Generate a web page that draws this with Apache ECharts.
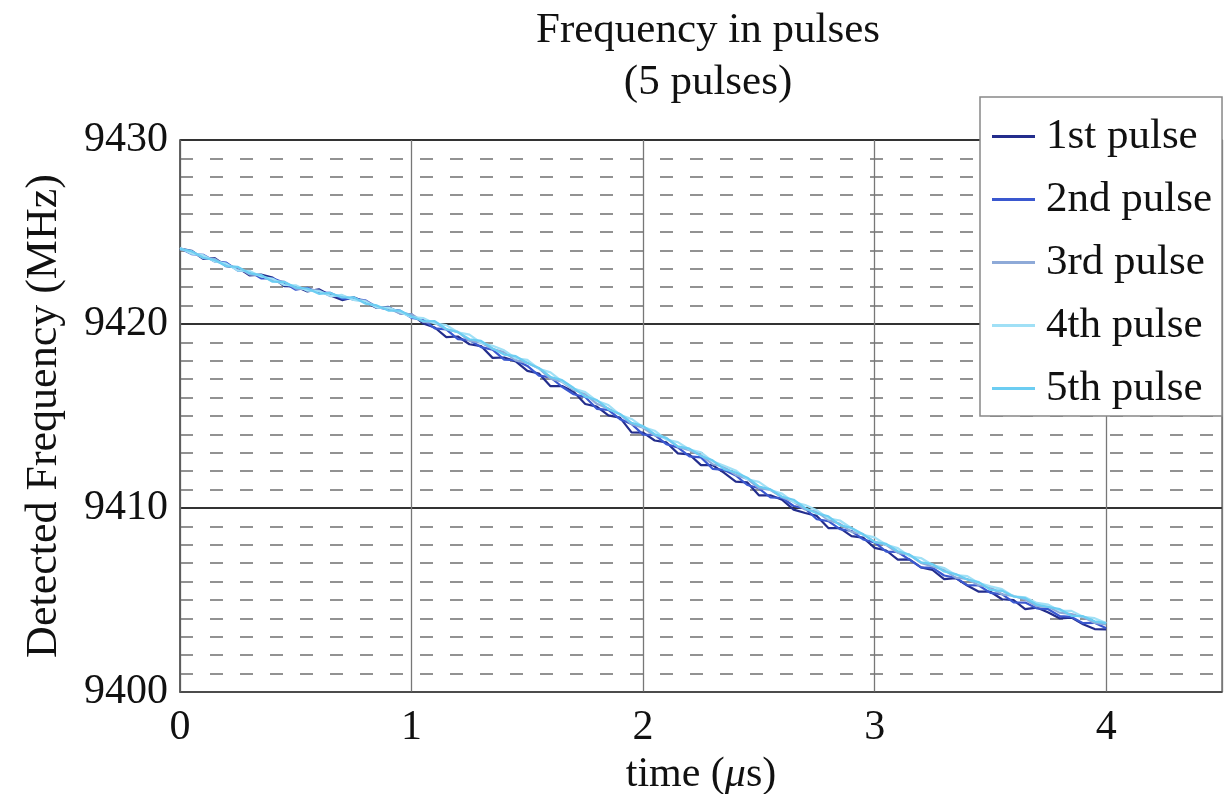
<!DOCTYPE html>
<html>
<head>
<meta charset="utf-8">
<title>Frequency in pulses</title>
<script src="https://cdn.jsdelivr.net/npm/echarts@6/dist/echarts.min.js"></script>
<style>
    html, body { margin: 0; padding: 0; background: #fff; }
    #main { width: 1224px; height: 794px; }
</style>
</head>
<body>
<div id="main"></div>
<script>
    // time axis (us)
    var timeUs = [0.00, 0.05, 0.10, 0.15, 0.20, 0.25, 0.30, 0.35, 0.40, 0.45,
        0.50, 0.55, 0.60, 0.65, 0.70, 0.75, 0.80, 0.85, 0.90, 0.95,
        1.00, 1.05, 1.10, 1.15, 1.20, 1.25, 1.30, 1.35, 1.40, 1.45,
        1.50, 1.55, 1.60, 1.65, 1.70, 1.75, 1.80, 1.85, 1.90, 1.95,
        2.00, 2.05, 2.10, 2.15, 2.20, 2.25, 2.30, 2.35, 2.40, 2.45,
        2.50, 2.55, 2.60, 2.65, 2.70, 2.75, 2.80, 2.85, 2.90, 2.95,
        3.00, 3.05, 3.10, 3.15, 3.20, 3.25, 3.30, 3.35, 3.40, 3.45,
        3.50, 3.55, 3.60, 3.65, 3.70, 3.75, 3.80, 3.85, 3.90, 3.95, 4.00];

    // detected frequency (MHz) per pulse
    var pulse1 = [9424.10, 9423.98, 9423.54, 9423.58, 9423.14, 9423.06, 9422.64, 9422.68, 9422.52, 9422.06,
        9422.04, 9421.77, 9421.89, 9421.55, 9421.30, 9421.45, 9421.19, 9420.87, 9420.93, 9420.58,
        9420.53, 9420.03, 9419.81, 9419.29, 9419.32, 9418.90, 9418.80, 9418.16, 9418.18, 9417.97,
        9417.45, 9417.31, 9416.62, 9416.63, 9416.32, 9415.65, 9415.51, 9415.03, 9414.91, 9414.11,
        9414.10, 9413.67, 9413.57, 9412.97, 9412.91, 9412.33, 9412.33, 9411.91, 9411.43, 9411.39,
        9410.69, 9410.69, 9410.45, 9409.91, 9409.73, 9409.57, 9408.91, 9408.91, 9408.47, 9408.39,
        9407.83, 9407.69, 9407.19, 9407.21, 9406.77, 9406.63, 9406.13, 9406.19, 9405.79, 9405.45,
        9405.45, 9405.04, 9404.99, 9404.50, 9404.59, 9404.32, 9404.00, 9404.04, 9403.68, 9403.42, 9403.40];
    var pulse2 = [9424.12, 9423.80, 9423.76, 9423.40, 9423.34, 9422.90, 9422.86, 9422.48, 9422.48, 9422.24,
        9421.86, 9421.97, 9421.70, 9421.69, 9421.38, 9421.37, 9421.29, 9420.91, 9420.79, 9420.73,
        9420.33, 9420.24, 9419.76, 9419.71, 9419.18, 9419.13, 9418.74, 9418.61, 9418.06, 9418.03,
        9417.72, 9417.19, 9417.10, 9416.59, 9416.18, 9416.03, 9415.39, 9415.33, 9414.83, 9414.57,
        9413.99, 9413.97, 9413.47, 9413.29, 9412.81, 9412.75, 9412.13, 9412.07, 9411.77, 9411.25,
        9411.07, 9410.57, 9410.55, 9410.11, 9409.97, 9409.39, 9409.29, 9408.85, 9408.75, 9408.29,
        9408.13, 9407.63, 9407.61, 9407.19, 9406.77, 9406.75, 9406.33, 9406.21, 9405.81, 9405.79,
        9405.39, 9405.32, 9404.87, 9404.86, 9404.55, 9404.50, 9404.12, 9404.08, 9403.74, 9403.76, 9403.46];
    var pulse3 = [9424.06, 9423.94, 9423.58, 9423.54, 9423.16, 9423.08, 9422.70, 9422.64, 9422.34, 9422.30,
        9421.92, 9421.89, 9421.82, 9421.51, 9421.54, 9421.31, 9421.27, 9420.91, 9420.85, 9420.57,
        9420.53, 9420.12, 9420.07, 9419.70, 9419.57, 9419.08, 9418.99, 9418.64, 9418.47, 9418.02,
        9417.89, 9417.58, 9417.03, 9416.86, 9416.41, 9416.20, 9415.66, 9415.40, 9415.10, 9414.56,
        9414.36, 9413.94, 9413.80, 9413.32, 9413.14, 9412.86, 9412.38, 9412.24, 9411.80, 9411.58,
        9411.08, 9410.98, 9410.58, 9410.34, 9409.92, 9409.80, 9409.34, 9409.14, 9408.70, 9408.58,
        9408.16, 9407.98, 9407.56, 9407.46, 9407.02, 9406.82, 9406.64, 9406.22, 9406.14, 9405.80,
        9405.68, 9405.31, 9405.22, 9405.03, 9404.66, 9404.63, 9404.31, 9404.23, 9404.07, 9403.75, 9403.67];
    var pulse4 = [9424.14, 9423.82, 9423.74, 9423.40, 9423.28, 9422.90, 9422.88, 9422.58, 9422.46, 9422.12,
        9422.10, 9421.81, 9421.78, 9421.53, 9421.58, 9421.31, 9421.23, 9420.89, 9420.89, 9420.65,
        9420.37, 9420.32, 9420.03, 9419.94, 9419.55, 9419.42, 9418.97, 9418.82, 9418.57, 9418.14,
        9418.05, 9417.56, 9417.37, 9416.88, 9416.49, 9416.30, 9415.82, 9415.60, 9415.06, 9414.84,
        9414.40, 9414.20, 9413.72, 9413.58, 9413.18, 9413.02, 9412.54, 9412.30, 9412.04, 9411.56,
        9411.42, 9410.98, 9410.78, 9410.32, 9410.16, 9409.88, 9409.44, 9409.32, 9408.90, 9408.54,
        9408.40, 9408.00, 9407.82, 9407.38, 9407.28, 9406.90, 9406.74, 9406.36, 9406.30, 9405.92,
        9405.74, 9405.59, 9405.20, 9405.15, 9404.84, 9404.75, 9404.41, 9404.41, 9404.09, 9404.01, 9403.75];
    var pulse5 = [9424.08, 9423.96, 9423.60, 9423.48, 9423.14, 9423.10, 9422.76, 9422.66, 9422.30, 9422.28,
        9421.98, 9421.93, 9421.64, 9421.69, 9421.44, 9421.45, 9421.11, 9421.01, 9420.73, 9420.73,
        9420.41, 9420.15, 9420.16, 9419.73, 9419.56, 9419.17, 9419.08, 9418.67, 9418.34, 9418.25,
        9417.88, 9417.61, 9417.12, 9416.95, 9416.52, 9416.05, 9415.87, 9415.37, 9415.11, 9414.63,
        9414.45, 9414.01, 9413.81, 9413.35, 9413.23, 9412.83, 9412.59, 9412.11, 9411.93, 9411.65,
        9411.17, 9411.01, 9410.61, 9410.45, 9409.99, 9409.71, 9409.55, 9409.07, 9408.91, 9408.57,
        9408.15, 9408.05, 9407.65, 9407.47, 9407.05, 9406.95, 9406.55, 9406.41, 9406.11, 9405.97,
        9405.55, 9405.50, 9405.19, 9405.10, 9404.75, 9404.62, 9404.50, 9404.14, 9404.12, 9403.84, 9403.74];

    var pulseNames = ['1st pulse', '2nd pulse', '3rd pulse', '4th pulse', '5th pulse'];
    var pulseData = [pulse1, pulse2, pulse3, pulse4, pulse5];
    var pulseColors = ['#232d8c', '#3a58cf', '#8eaad8', '#a0e0f6', '#6ccdf2'];

    var serifFont = "'Liberation Serif', 'Times New Roman', serif";

    var seriesArr = [];
    for (var i = 0; i < pulseData.length; i++) {
        var pts = [];
        for (var k = 0; k < timeUs.length; k++) {
            pts.push([timeUs[k], pulseData[i][k]]);
        }
        seriesArr.push({
            name: pulseNames[i],
            type: 'line',
            data: pts,
            symbol: 'none',
            animation: false,
            lineStyle: { color: pulseColors[i], width: 2.2 },
            itemStyle: { color: pulseColors[i] }
        });
    }

    var myChart = echarts.init(document.getElementById('main'));
    var option = {
        backgroundColor: '#fff',
        animation: false,
        title: {
            text: 'Frequency in pulses\n(5 pulses)',
            left: 703,
            top: 0,
            textAlign: 'center',
            textStyle: {
                fontFamily: serifFont,
                fontSize: 43,
                fontWeight: 'normal',
                lineHeight: 52,
                color: '#111'
            }
        },
        legend: {
            orient: 'vertical',
            left: 980,
            top: 97,
            width: 242,
            padding: [18, 10, 6, 12],
            backgroundColor: '#fff',
            borderColor: '#888',
            borderWidth: 1.5,
            icon: 'rect',
            itemWidth: 43,
            itemHeight: 3,
            itemGap: 20,
            data: pulseNames,
            textStyle: {
                fontFamily: serifFont,
                fontSize: 43,
                lineHeight: 42,
                color: '#111',
                padding: [0, 0, 0, 6]
            }
        },
        grid: {
            left: 180,
            right: 2,
            top: 140,
            bottom: 102,
            outerBoundsMode: 'none',
            containLabel: false,
            show: true,
            borderColor: '#777',
            borderWidth: 1.5
        },
        xAxis: {
            type: 'value',
            min: 0,
            max: 4.5,
            interval: 1,
            name: 'time ({i|μ}s)',
            nameLocation: 'middle',
            nameGap: 62,
            nameTextStyle: {
                fontFamily: serifFont,
                fontSize: 42,
                color: '#111',
                rich: {
                    i: { fontFamily: serifFont, fontSize: 42, fontStyle: 'italic', color: '#111' }
                }
            },
            axisLine: { show: true, lineStyle: { color: '#555', width: 1.5 } },
            axisTick: { show: false },
            axisLabel: {
                showMaxLabel: false,
                margin: 15,
                fontFamily: serifFont,
                fontSize: 42,
                color: '#111'
            },
            splitLine: { show: true, lineStyle: { color: '#777', width: 1.3 } }
        },
        yAxis: {
            type: 'value',
            min: 9400,
            max: 9430,
            interval: 10,
            name: 'Detected Frequency (MHz)',
            nameLocation: 'middle',
            nameGap: 114,
            nameTextStyle: {
                fontFamily: serifFont,
                fontSize: 44,
                color: '#111'
            },
            axisLine: { show: true, lineStyle: { color: '#555', width: 1.5 } },
            axisTick: { show: false },
            axisLabel: {
                margin: 12,
                fontFamily: serifFont,
                fontSize: 42,
                color: '#111',
                formatter: function (v) { return String(v); }
            },
            splitLine: { show: true, lineStyle: { color: '#333', width: 2 } },
            minorTick: { show: false, splitNumber: 10 },
            minorSplitLine: {
                show: true,
                lineStyle: { color: '#6f6f6f', width: 1.6, type: [13, 17] }
            }
        },
        series: seriesArr
    };
    myChart.setOption(option);
</script>
</body>
</html>
